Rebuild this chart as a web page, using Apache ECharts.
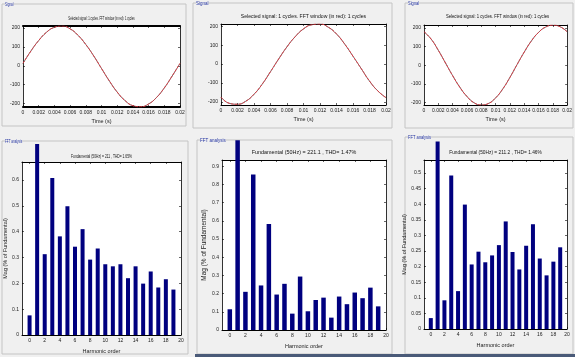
<!DOCTYPE html>
<html><head><meta charset="utf-8">
<script src="https://cdn.jsdelivr.net/npm/echarts@6/dist/echarts.min.js"></script>
<style>html,body{margin:0;padding:0;background:#f0f0f0}#c{width:575px;height:357px}</style>
</head><body><div id="c"></div>
<script>
// ---- data ----
const sigTimes = [0,0.001,0.002,0.003,0.004,0.005,0.006,0.007,0.008,0.009,0.010,0.011,0.012,0.013,0.014,0.015,0.016,0.017,0.018,0.019,0.020];
const sigTopLeft  = [13,78,134,178,204,211,196,162,113,53,-14,-80,-139,-184,-211,-217,-202,-168,-117,-54,13];
const sigTopMid   = [-175,-208,-213,-197,-160,-106,-40,28,92,146,187,209,213,196,160,106,42,-24,-90,-142,-178];
const sigTopRight = [180,140,80,12,-56,-118,-168,-202,-214,-206,-176,-128,-66,3,70,130,176,205,215,207,180];
const timeTicks = [0,0.002,0.004,0.006,0.008,0.010,0.012,0.014,0.016,0.018,0.020];
const timeTickLabels = ['0','0.002','0.004','0.006','0.008','0.01','0.012','0.014','0.016','0.018','0.02'];
const sigTicks = [-200,-100,0,100,200];

const harmonics = [0,1,2,3,4,5,6,7,8,9,10,11,12,13,14,15,16,17,18,19];
// fundamental (order 1) bar is drawn clipped at the panel edge as in the picture
const magBottomLeft  = [0.076,0.74,0.313,0.608,0.382,0.499,0.342,0.41,0.292,0.335,0.274,0.266,0.274,0.22,0.266,0.199,0.246,0.184,0.216,0.176];
const magBottomMid   = [0.114,1.043,0.21,0.855,0.245,0.583,0.195,0.254,0.09,0.294,0.103,0.165,0.178,0.068,0.184,0.142,0.206,0.175,0.233,0.13];
const magBottomRight = [0.035,0.601,0.092,0.4925,0.1215,0.399,0.207,0.248,0.214,0.236,0.269,0.345,0.247,0.191,0.267,0.336,0.226,0.172,0.216,0.262];
const harmTicks = [0,2,4,6,8,10,12,14,16,18,20];
const magTicksBL = [0,0.1,0.2,0.3,0.4,0.5,0.6];
const magTicksBM = [0,0.1,0.2,0.3,0.4,0.5,0.6,0.7,0.8,0.9];
const magTicksBR = [0,0.05,0.1,0.15,0.2,0.25,0.3,0.35,0.4,0.45,0.5];

const titles = [
  'Selected signal: 1 cycles. FFT window (in red): 1 cycles',
  'Selected signal: 1 cycles. FFT window (in red): 1 cycles',
  'Selected signal: 1 cycles. FFT window (in red): 1 cycles',
  'Fundamental (50Hz) = 211 , THD= 1.65%',
  'Fundamental (50Hz) = 221.1 , THD= 1.47%',
  'Fundamental (50Hz) = 211.2 , THD= 1.46%'
];
const panelLabels = ['Signal','Signal','Signal','FFT analysis','FFT analysis','FFT analysis'];

// ---- layout ----
const grids = [
  {left:23, top:26, width:157, height:81},
  {left:221, top:24, width:165, height:81},
  {left:424, top:25, width:147, height:80},
  {left:22, top:162, width:159, height:173},
  {left:222, top:160, width:164, height:170},
  {left:424, top:160, width:143, height:169}
];
const xr = [[0,0.02],[0,0.02],[0,0.02],[-1,20],[-1,20],[-1,20]];
const yr = [[-218,211],[-217,213],[-214,216],[0,0.67],[0,0.935],[0,0.542]];
const xt = [timeTicks,timeTicks,timeTicks,harmTicks,harmTicks,harmTicks];
const yt = [sigTicks,sigTicks,sigTicks,magTicksBL,magTicksBM,magTicksBR];
const xNames = ['Time (s)','Time (s)','Time (s)','Harmonic order','Harmonic order','Harmonic order'];
const yNames = ['','','','Mag (% of Fundamental)','Mag (% of Fundamental)','Mag (% of Fundamental)'];
const panels = [
  {x:2,y:4,w:184,h:122},{x:193,y:3,w:199,h:125},{x:405,y:3,w:168,h:125},
  {x:2,y:141,w:186,h:213},{x:197,y:140,w:195,h:214},{x:405,y:137,w:168,h:217}
];
const titleY = [18,16,16,156,152,152];
const titleScale = [0.45,0.85,0.7,0.55,0.9,0.8];
const labelScale = [0.6,0.9,0.8,0.6,0.9,0.8];

const xAxes=[], yAxes=[], series=[], graphics=[];
function fmtX(i,v){ if(i<3){ const k=timeTicks.indexOf(v); return k>=0?timeTickLabels[k]:String(v);} return String(v); }
grids.forEach((g,i)=>{
  const thick = i===0 ? 2 : 1;
  xAxes.push({gridIndex:i,type:'value',min:xr[i][0],max:xr[i][1],
    axisLine:{show:true,onZero:false,lineStyle:{color:'#000',width:thick}},
    axisTick:{inside:true,length:2,customValues:xt[i],lineStyle:{color:'#000',width:0.6}},
    axisLabel:{customValues:xt[i],fontSize:5,color:'#222',margin:3,formatter:v=>fmtX(i,v)},
    splitLine:{show:false},
    name:xNames[i],nameLocation:'middle',nameGap:i<3?11:13,nameTextStyle:{fontSize:5.5,color:'#222'}});
  xAxes.push({gridIndex:i,type:'value',position:'top',min:xr[i][0],max:xr[i][1],
    axisLine:{show:true,onZero:false,lineStyle:{color:'#000',width:thick}},
    axisTick:{inside:true,length:2,customValues:xt[i],lineStyle:{color:'#000',width:0.6}},
    axisLabel:{show:false},splitLine:{show:false}});
  yAxes.push({gridIndex:i,type:'value',min:yr[i][0],max:yr[i][1],
    axisLine:{show:true,onZero:false,lineStyle:{color:'#000',width:0.8}},
    axisTick:{inside:true,length:2,customValues:yt[i],lineStyle:{color:'#000',width:0.6}},
    axisLabel:{customValues:yt[i],fontSize:5,color:'#222',margin:3},
    splitLine:{show:false},
    name:yNames[i],nameLocation:'middle',nameGap:i===4?12:(i===5?13:8),nameTextStyle:{fontSize:i===4?6.5:5.5,color:'#222'}});
  yAxes.push({gridIndex:i,type:'value',position:'right',min:yr[i][0],max:yr[i][1],
    axisLine:{show:true,onZero:false,lineStyle:{color:'#000',width:0.8}},
    axisTick:{inside:true,length:2,customValues:yt[i],lineStyle:{color:'#000',width:0.6}},
    axisLabel:{show:false},splitLine:{show:false}});
  const p = panels[i];
  graphics.push({type:'rect',z:-10,shape:{x:p.x,y:p.y,width:p.w,height:p.h},style:{fill:'#f0f0f0',stroke:'#c4c4c4',lineWidth:1}});
  graphics.push({type:'text',z:5,x:p.x+3,y:p.y-2,scaleX:labelScale[i],style:{text:panelLabels[i],fontSize:5,fill:'#2030a0',backgroundColor:'#f0f0f0',fontFamily:'Liberation Sans'}});
  graphics.push({type:'text',z:5,x:g.left+g.width/2,y:titleY[i],scaleX:titleScale[i],
    style:{text:titles[i],fontSize:6,fill:'#111',align:'center',verticalAlign:'middle',fontFamily:'Liberation Sans'}});
});
// window frame strip along the bottom under the two right FFT panels
graphics.push({type:'rect',z:-5,shape:{x:195,y:354,width:380,height:3},style:{fill:'#4a5a78'}});

const sigs=[sigTopLeft,sigTopMid,sigTopRight];
sigs.forEach((s,i)=>{
  const d = sigTimes.map((t,k)=>[t,s[k]]);
  series.push({type:'line',xAxisIndex:2*i,yAxisIndex:2*i,data:d,smooth:true,showSymbol:false,lineStyle:{color:'#333',width:0.7},silent:true});
  series.push({type:'line',xAxisIndex:2*i,yAxisIndex:2*i,data:d,smooth:true,showSymbol:false,lineStyle:{color:'#e8323c',width:0.9,type:[3,1]},silent:true});
});
const mags=[magBottomLeft,magBottomMid,magBottomRight];
const bw=[4,4.5,4];
mags.forEach((m,j)=>{
  const i=j+3;
  series.push({type:'bar',xAxisIndex:2*i,yAxisIndex:2*i,data:harmonics.map((h,k)=>[h,m[k]]),barWidth:bw[j],clip:false,itemStyle:{color:'#00007f'},silent:true});
});

const chart = echarts.init(document.getElementById('c'),null,{renderer:'canvas'});
chart.setOption({
  animation:false,
  backgroundColor:'#f0f0f0',
  textStyle:{fontFamily:'Liberation Sans'},
  grid:grids.map(g=>Object.assign({show:true,backgroundColor:'#fff',borderWidth:0,containLabel:false},g)),
  xAxis:xAxes, yAxis:yAxes, series:series, graphic:graphics
});
</script></body></html>
